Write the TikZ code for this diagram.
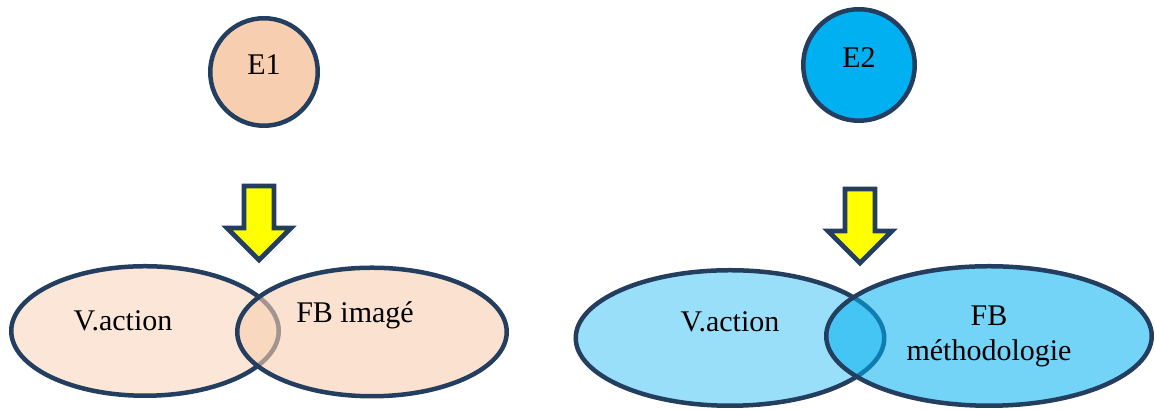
\documentclass[tikz,border=0pt]{standalone}
\usepackage{fontspec}
\setmainfont{Liberation Serif}
\usetikzlibrary{shapes.geometric}
\definecolor{myborder}{RGB}{36,62,96}
\definecolor{mypeach}{RGB}{248,206,176}
\definecolor{mysky}{RGB}{0,176,240}
\definecolor{myyellow}{RGB}{255,255,0}
\tikzset{
  txt/.style={font=\fontsize{12pt}{14pt}\selectfont, text=black, text opacity=1},
  stepcircle/.style={circle, draw=myborder, line width=1.8pt,
    inner sep=0pt, text depth=6pt, txt},
  bubble/.style={ellipse, draw=myborder, line width=1.8pt,
    inner sep=0pt, align=center, txt},
  peachbubble/.style={bubble, fill=mypeach},
  skybubble/.style={bubble, fill=mysky},
  downarrow/.pic={
    \draw[draw=myborder, fill=myyellow, line width=1.9pt]
      (-15,2) -- (15,2) -- (15,44) -- (32,44) -- (0,76)
      -- (-32,44) -- (-15,44) -- cycle;
  }
}

\begin{document}
\begin{tikzpicture}[x=0.4pt, y=-0.4pt]
  \useasboundingbox (0,0) rectangle (1155,410);

  % ── Group E1 ───────────────────────────────────────────────
  \node[stepcircle, fill=mypeach, minimum size=43pt] (E1) at (264,72) {E1};
  \pic at (259,184) {downarrow};
  \node[peachbubble, fill opacity=0.5, minimum width=107pt, minimum height=51.8pt,
    label={[txt, xshift=-8.8pt, yshift=4pt]center:V.action}] (va1) at (145,331) {};
  \node[peachbubble, fill opacity=0.6, minimum width=107.8pt, minimum height=51.4pt,
    label={[txt, xshift=-6.8pt, yshift=6.8pt]center:FB imagé}] (fb1) at (372,332) {};

  % ── Group E2 ───────────────────────────────────────────────
  \node[stepcircle, fill=mysky, minimum size=44.6pt] (E2) at (859,65) {E2};
  \pic at (860,187) {downarrow};
  \node[skybubble, fill opacity=0.4, minimum width=123.4pt, minimum height=54.2pt,
    label={[txt, yshift=6.4pt]center:V.action}] (va2) at (730,338) {};
  \node[skybubble, fill opacity=0.55, minimum width=130.2pt, minimum height=55.8pt]
    (fb2) at (989,336) {FB\\méthodologie};
\end{tikzpicture}
\end{document}
